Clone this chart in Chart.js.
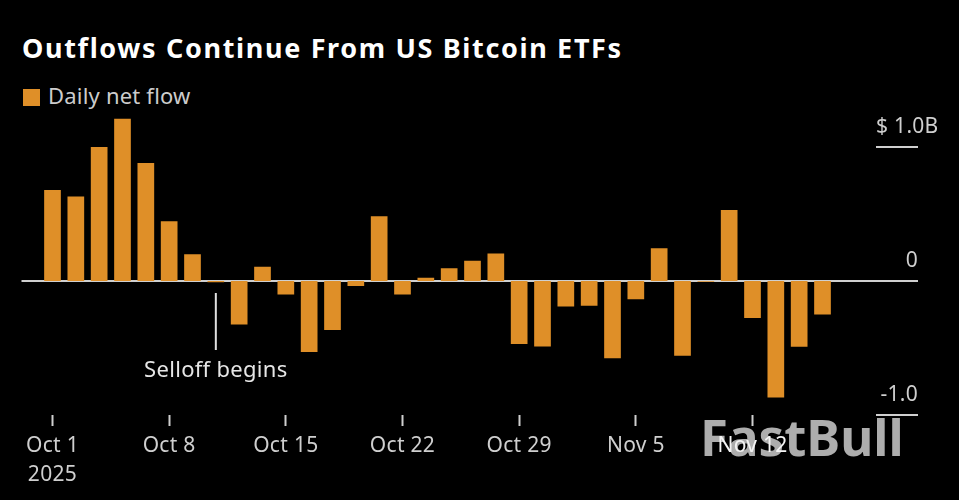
<!DOCTYPE html>
<html>
<head>
<meta charset="utf-8">
<script src="https://cdn.jsdelivr.net/npm/chart.js@4"></script>
<style>
  html, body { margin: 0; background: #000; }
  #wrap { position: relative; width: 959px; height: 500px; overflow: hidden; }
  #chart { position: absolute; left: 0; top: 0; }
  h1 { position: absolute; left: 22px; top: 31px; margin: 0; color: #fff; white-space: nowrap;
       font: bold 27px "Noto Sans"; letter-spacing: 1.65px; line-height: 34px; }
  #legend { position: absolute; left: 23px; top: 81px; color: #ccc; white-space: nowrap;
            font: 22px "Noto Sans"; line-height: 28px; letter-spacing: 0.2px; }
  #legend i { display: inline-block; width: 17px; height: 17px; background: #df8f28;
              margin-right: 8px; vertical-align: -2px; }
</style>
</head>
<body>
<div id="wrap">
  <h1>Outflows Continue From US Bitcoin ETFs</h1>
  <div id="legend"><i></i>Daily net flow</div>
  <canvas id="chart" width="959" height="500"></canvas>
</div>
<script>
// business days, the last four have no bar yet and only hold the axis open
const days = [
  "Oct 1", "Oct 2", "Oct 3", "Oct 6", "Oct 7",
  "Oct 8", "Oct 9", "Oct 10", "Oct 13", "Oct 14",
  "Oct 15", "Oct 16", "Oct 17", "Oct 20", "Oct 21",
  "Oct 22", "Oct 23", "Oct 24", "Oct 27", "Oct 28",
  "Oct 29", "Oct 30", "Oct 31", "Nov 3", "Nov 4",
  "Nov 5", "Nov 6", "Nov 7", "Nov 10", "Nov 11",
  "Nov 12", "Nov 13", "Nov 14", "Nov 17", "Nov 18",
  "Nov 19", "Nov 20", "Nov 21"
];
const dailyNetFlow = [
  0.68, 0.63, 1.0, 1.21, 0.88,
  0.445, 0.2, -0.01, -0.325, 0.107,
  -0.1, -0.53, -0.365, -0.037, 0.483,
  -0.1, 0.025, 0.095, 0.152, 0.206,
  -0.47, -0.488, -0.19, -0.184, -0.577,
  -0.137, 0.244, -0.557, -0.005, 0.53,
  -0.276, -0.87, -0.49, -0.25
];
const xTickDays = ["Oct 1", "Oct 8", "Oct 15", "Oct 22", "Oct 29", "Nov 5", "Nov 12"];
const yTickValues = [1, 0, -1];
const yTickLabels = ["$ 1.0B", "0", "-1.0"];
const selloffDay = "Oct 10";
const selloffLabel = "Selloff begins";
const labelFont = '21px "Noto Sans"';
const labelColor = "#cfcfcf";

// y軸の目盛り線とラベル、注記を描く
const overlay = {
  id: "overlay",
  beforeDraw(chart) {
    const ctx = chart.ctx;
    // watermark sits under the axis labels
    ctx.save();
    ctx.font = 'bold 51px "Noto Sans"';
    ctx.fillStyle = "#adadad";
    ctx.textAlign = "left";
    ctx.textBaseline = "alphabetic";
    ctx.fillText("FastBull", 700, 456);
    ctx.restore();
    ctx.letterSpacing = "0.3px";
  },
  beforeDatasetsDraw(chart) {
    const ctx = chart.ctx;
    const y = chart.scales.y;
    ctx.save();
    ctx.lineWidth = 2;
    ctx.strokeStyle = "#cfcfcf";
    ctx.font = labelFont;
    ctx.fillStyle = labelColor;
    ctx.textBaseline = "alphabetic";
    yTickValues.forEach(function (value, i) {
      const py = y.getPixelForValue(value);
      ctx.beginPath();
      ctx.moveTo(value === 0 ? 21.5 : 876, py);
      ctx.lineTo(918, py);
      ctx.stroke();
      ctx.textAlign = i === 0 ? "left" : "right";
      ctx.fillText(yTickLabels[i], i === 0 ? 876 : 918, py - 14);
    });
    ctx.restore();
  },
  afterDatasetsDraw(chart) {
    const ctx = chart.ctx;
    const px = chart.scales.x.getPixelForValue(days.indexOf(selloffDay));
    const py = chart.scales.y.getPixelForValue(0);
    ctx.save();
    ctx.strokeStyle = "#e0e0e0";
    ctx.lineWidth = 2;
    ctx.beginPath();
    ctx.moveTo(px, py + 12);
    ctx.lineTo(px, py + 69);
    ctx.stroke();
    ctx.font = '22px "Noto Sans"';
    ctx.fillStyle = "#e6e6e6";
    ctx.textAlign = "center";
    ctx.textBaseline = "alphabetic";
    ctx.fillText(selloffLabel, px, py + 96);
    ctx.restore();
  }
};

const myChart = new Chart(document.getElementById("chart").getContext("2d"), {
  type: "bar",
  data: {
    labels: days,
    datasets: [{
      label: "Daily net flow",
      data: dailyNetFlow,
      backgroundColor: "#df8f28",
      barPercentage: 1,
      categoryPercentage: 0.715
    }]
  },
  options: {
    responsive: false,
    animation: false,
    layout: { padding: { left: 40.83, right: 31.5, top: 113.5, bottom: 0 } },
    plugins: { legend: { display: false }, tooltip: { enabled: false } },
    scales: {
      x: {
        afterBuildTicks(scale) {
          scale.ticks = scale.ticks.filter(function (t) {
            return xTickDays.includes(days[t.value]);
          });
        },
        afterFit(scale) { scale.height = 85; },
        border: { display: false },
        grid: { drawOnChartArea: false, offset: false, tickLength: 11, tickColor: "#cfcfcf", tickWidth: 2 },
        ticks: {
          autoSkip: false,
          maxRotation: 0,
          padding: 6,
          color(c) { return c.tick && days[c.tick.value] === "Nov 12" ? "#f4f4f4" : labelColor; },
          font: { family: "Noto Sans", size: 21, lineHeight: 1.35 },
          callback(value) {
            const name = this.getLabelForValue(value);
            return name === "Oct 1" ? [name, "2025"] : name;
          }
        }
      },
      y: { display: false, min: -1, max: 1.25 }
    }
  },
  plugins: [overlay]
});
</script>
</body>
</html>
